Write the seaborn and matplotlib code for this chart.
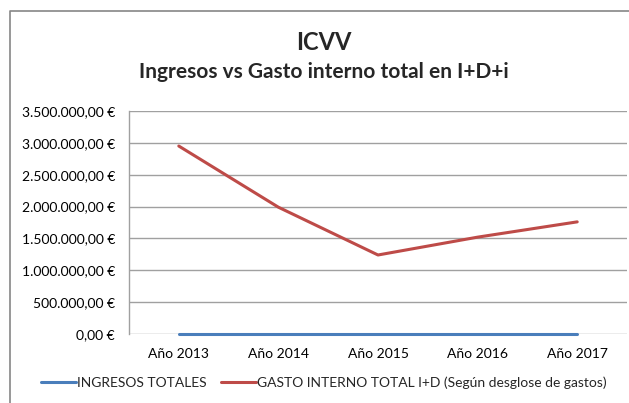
import numpy as np
import pandas as pd
import seaborn as sns
import matplotlib
matplotlib.use("Agg")
import matplotlib.pyplot as plt
from matplotlib.lines import Line2D
from matplotlib.ticker import FuncFormatter

# datos
years = ["Año 2013", "Año 2014", "Año 2015", "Año 2016", "Año 2017"]
ingresos = [0, 0, 0, 0, 0]
gasto = [2950000, 1990000, 1240000, 1520000, 1760000]
series_names = ["INGRESOS TOTALES", "GASTO INTERNO TOTAL I+D (Según desglose de gastos)"]
colors = ["#4A7EBB", "#BE4B48"]

df = pd.DataFrame({
    "year": years * 2,
    "x": list(range(len(years))) * 2,
    "valor": ingresos + gasto,
    "serie": [series_names[0]] * len(years) + [series_names[1]] * len(years),
})

sns.set_style("white")
plt.rcParams['font.family'] = ['Lato', 'DejaVu Sans']

fig = plt.figure(figsize=(6.29, 4.03), dpi=100)
ax = fig.add_axes([129 / 629, 1 - 334 / 403, (627 - 129) / 629, (334 - 111) / 403])

sns.lineplot(data=df, x="x", y="valor", hue="serie", palette=colors,
             linewidth=2.2, ax=ax, legend=False, zorder=3)
for ln in ax.lines:
    ln.set_clip_on(False)

def euro(v, pos):
    s = f"{v:,.2f}".replace(",", "X").replace(".", ",").replace("X", ".")
    return s + " €"

ax.set_ylim(0, 3500000)
ax.set_yticks(np.arange(0, 3500001, 500000))
ax.yaxis.set_major_formatter(FuncFormatter(euro))
ax.set_xlim(-0.5, len(years) - 0.5)
ax.set_xticks(range(len(years)))
ax.set_xticklabels(years)
ax.set_xlabel("")
ax.set_ylabel("")
ax.grid(axis="y", color="#A0A0A0", linewidth=1.0, zorder=0)
ax.set_axisbelow(True)
for s in ["top", "right", "bottom"]:
    ax.spines[s].set_visible(False)
ax.spines["left"].set_color("#A0A0A0")
ax.spines["left"].set_linewidth(1.0)
ax.tick_params(axis="both", length=0, labelsize=10, colors="black")
ax.tick_params(axis="y", pad=10)
ax.tick_params(axis="x", pad=10)

# titulo
fig.text(0.515, 1 - 42 / 403, "ICVV", ha="center", va="center",
         fontsize=17, fontweight="bold")
fig.text(0.515, 1 - 72 / 403, "Ingresos vs Gasto interno total en I+D+i",
         ha="center", va="center", fontsize=15, fontweight="bold")

# leyenda
handles = [Line2D([0], [0], color=c, linewidth=2.2) for c in colors]
fig.legend(handles, series_names, loc="center", bbox_to_anchor=(0.515, 1 - 383 / 403),
           ncol=2, frameon=False, fontsize=10, handlelength=2.5,
           handletextpad=0.1, columnspacing=1.0)

# borde del grafico
fig.add_artist(Line2D([10 / 629, 10 / 629, 1.0], [0, 1 - 11 / 403, 1 - 11 / 403],
                      color="#868686", linewidth=1.2, transform=fig.transFigure))

fig.savefig("out.png", dpi=100)
